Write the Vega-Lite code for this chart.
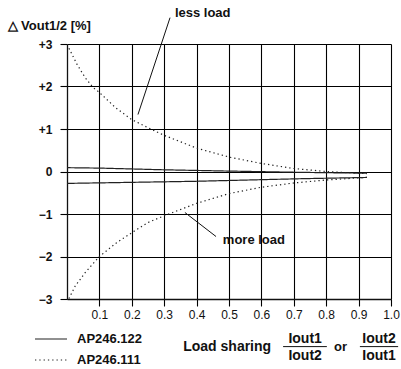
{
  "$schema": "https://vega.github.io/schema/vega-lite/v6.json",
  "width": 324,
  "height": 255,
  "autosize": {"type": "none"},
  "padding": {"left": 67, "top": 44, "right": 10, "bottom": 70},
  "background": "white",
  "config": {
    "font": "Liberation Sans",
    "view": {"stroke": null}
  },
  "datasets": {
    "curves": [
      {"series": "AP246.111", "curve": "a", "x": 0.006, "y": 2.9},
      {"series": "AP246.111", "curve": "a", "x": 0.031, "y": 2.52},
      {"series": "AP246.111", "curve": "a", "x": 0.056, "y": 2.21},
      {"series": "AP246.111", "curve": "a", "x": 0.08, "y": 1.98},
      {"series": "AP246.111", "curve": "a", "x": 0.1, "y": 1.86},
      {"series": "AP246.111", "curve": "a", "x": 0.15, "y": 1.5},
      {"series": "AP246.111", "curve": "a", "x": 0.2, "y": 1.22},
      {"series": "AP246.111", "curve": "a", "x": 0.25, "y": 1.03},
      {"series": "AP246.111", "curve": "a", "x": 0.3, "y": 0.85},
      {"series": "AP246.111", "curve": "a", "x": 0.4, "y": 0.55},
      {"series": "AP246.111", "curve": "a", "x": 0.5, "y": 0.34},
      {"series": "AP246.111", "curve": "a", "x": 0.6, "y": 0.19},
      {"series": "AP246.111", "curve": "a", "x": 0.7, "y": 0.07},
      {"series": "AP246.111", "curve": "a", "x": 0.8, "y": 0.0},
      {"series": "AP246.111", "curve": "a", "x": 0.9, "y": -0.04},
      {"series": "AP246.111", "curve": "a", "x": 0.926, "y": -0.05},
      {"series": "AP246.111", "curve": "b", "x": 0.006, "y": -2.99},
      {"series": "AP246.111", "curve": "b", "x": 0.025, "y": -2.7},
      {"series": "AP246.111", "curve": "b", "x": 0.056, "y": -2.38},
      {"series": "AP246.111", "curve": "b", "x": 0.1, "y": -2.0},
      {"series": "AP246.111", "curve": "b", "x": 0.154, "y": -1.67},
      {"series": "AP246.111", "curve": "b", "x": 0.2, "y": -1.44},
      {"series": "AP246.111", "curve": "b", "x": 0.25, "y": -1.2},
      {"series": "AP246.111", "curve": "b", "x": 0.3, "y": -1.04},
      {"series": "AP246.111", "curve": "b", "x": 0.4, "y": -0.75},
      {"series": "AP246.111", "curve": "b", "x": 0.5, "y": -0.52},
      {"series": "AP246.111", "curve": "b", "x": 0.6, "y": -0.37},
      {"series": "AP246.111", "curve": "b", "x": 0.7, "y": -0.27},
      {"series": "AP246.111", "curve": "b", "x": 0.8, "y": -0.2},
      {"series": "AP246.111", "curve": "b", "x": 0.9, "y": -0.15},
      {"series": "AP246.111", "curve": "b", "x": 0.926, "y": -0.14},
      {"series": "AP246.122", "curve": "c", "x": 0.0, "y": 0.09},
      {"series": "AP246.122", "curve": "c", "x": 0.1, "y": 0.08},
      {"series": "AP246.122", "curve": "c", "x": 0.3, "y": 0.04},
      {"series": "AP246.122", "curve": "c", "x": 0.5, "y": 0.01},
      {"series": "AP246.122", "curve": "c", "x": 0.72, "y": -0.02},
      {"series": "AP246.122", "curve": "c", "x": 0.926, "y": -0.04},
      {"series": "AP246.122", "curve": "d", "x": 0.0, "y": -0.28},
      {"series": "AP246.122", "curve": "d", "x": 0.4, "y": -0.23},
      {"series": "AP246.122", "curve": "d", "x": 0.72, "y": -0.17},
      {"series": "AP246.122", "curve": "d", "x": 0.926, "y": -0.14}
    ],
    "leaders": [
      {"x": 0.318, "y": 3.62, "x2": 0.219, "y2": 1.34},
      {"x": 0.364, "y": -0.965, "x2": 0.46, "y2": -1.53},
      {"x": 0.667, "y": -4.12, "x2": 0.802, "y2": -4.12},
      {"x": 0.904, "y": -4.12, "x2": 1.022, "y2": -4.12}
    ],
    "notes": [
      {"text": "less load", "x": 0.333, "y": 3.74, "align": "left", "size": 13},
      {"text": "more load", "x": 0.481, "y": -1.6, "align": "left", "size": 13},
      {"text": "Load sharing", "x": 0.63, "y": -4.12, "align": "right", "size": 14},
      {"text": "Iout1", "x": 0.735, "y": -3.93, "align": "center", "size": 14},
      {"text": "Iout2", "x": 0.735, "y": -4.35, "align": "center", "size": 14},
      {"text": "or", "x": 0.844, "y": -4.12, "align": "center", "size": 13},
      {"text": "Iout2", "x": 0.963, "y": -3.93, "align": "center", "size": 14},
      {"text": "Iout1", "x": 0.963, "y": -4.35, "align": "center", "size": 14}
    ]
  },
  "encoding": {
    "x": {
      "field": "x",
      "type": "quantitative",
      "scale": {"domain": [0, 1], "nice": false, "zero": false},
      "axis": {
        "values": [0.1, 0.2, 0.3, 0.4, 0.5, 0.6, 0.7, 0.8, 0.9, 1.0],
        "format": ".1f",
        "title": null,
        "grid": true,
        "gridColor": "#000",
        "gridWidth": 1.1,
        "gridOpacity": 1,
        "domain": true,
        "domainColor": "#111",
        "domainWidth": 1.3,
        "ticks": true,
        "tickColor": "#000",
        "tickWidth": 1.1,
        "tickSize": 7,
        "labelColor": "#111",
        "labelFontSize": 12,
        "labelPadding": 3,
        "labelFlush": false,
        "labelOverlap": false
      }
    },
    "y": {
      "field": "y",
      "type": "quantitative",
      "scale": {"domain": [-3, 3], "nice": false, "zero": false},
      "axis": {
        "values": [-3, -2, -1, 0, 1, 2, 3],
        "labelExpr": "datum.value > 0 ? '+' + datum.value : (datum.value < 0 ? '\u2212' + abs(datum.value) : '0')",
        "grid": true,
        "gridColor": "#000",
        "gridWidth": 1.1,
        "gridOpacity": 1,
        "domain": true,
        "domainColor": "#111",
        "domainWidth": 1.3,
        "ticks": true,
        "tickColor": "#000",
        "tickWidth": 1.1,
        "tickSize": 7,
        "labelColor": "#111",
        "labelFontSize": 12,
        "labelFontWeight": "bold",
        "labelPadding": 8,
        "labelFlush": false,
        "labelOverlap": false,
        "title": "\u25b3 Vout1/2 [%]",
        "titleAngle": 0,
        "titleAlign": "left",
        "titleBaseline": "middle",
        "titleX": -60,
        "titleY": -19,
        "titleFontSize": 13,
        "titleFontWeight": "bold",
        "titleColor": "#111"
      }
    }
  },
  "layer": [
    {
      "data": {"name": "curves"},
      "mark": {"type": "line", "strokeWidth": 1.2, "color": "#222"},
      "encoding": {
        "detail": {"field": "curve"},
        "strokeDash": {
          "field": "series",
          "type": "nominal",
          "scale": {"domain": ["AP246.122", "AP246.111"], "range": [[1, 0], [1.3, 3]]},
          "legend": {
            "orient": "none",
            "legendX": -33,
            "legendY": 285,
            "title": null,
            "symbolType": "stroke",
            "symbolSize": 1024,
            "symbolStrokeColor": "#222",
            "symbolStrokeWidth": 1.2,
            "labelFontSize": 13,
            "labelFontWeight": "bold",
            "labelColor": "#111",
            "labelOffset": 9,
            "clipHeight": 20,
            "rowPadding": 1,
            "padding": 0
          }
        }
      }
    },
    {
      "data": {"name": "leaders"},
      "mark": {"type": "rule", "color": "#111", "strokeWidth": 1},
      "encoding": {
        "x2": {"field": "x2"},
        "y2": {"field": "y2"}
      }
    },
    {
      "data": {"name": "notes"},
      "transform": [{"filter": "datum.align == 'left'"}],
      "mark": {"type": "text", "fontWeight": "bold", "color": "#111", "baseline": "middle", "align": "left"},
      "encoding": {
        "text": {"field": "text"},
        "size": {"field": "size", "type": "quantitative", "scale": null, "legend": null}
      }
    },
    {
      "data": {"name": "notes"},
      "transform": [{"filter": "datum.align == 'right'"}],
      "mark": {"type": "text", "fontWeight": "bold", "color": "#111", "baseline": "middle", "align": "right"},
      "encoding": {
        "text": {"field": "text"},
        "size": {"field": "size", "type": "quantitative", "scale": null, "legend": null}
      }
    },
    {
      "data": {"name": "notes"},
      "transform": [{"filter": "datum.align == 'center'"}],
      "mark": {"type": "text", "fontWeight": "bold", "color": "#111", "baseline": "middle", "align": "center"},
      "encoding": {
        "text": {"field": "text"},
        "size": {"field": "size", "type": "quantitative", "scale": null, "legend": null}
      }
    }
  ]
}
